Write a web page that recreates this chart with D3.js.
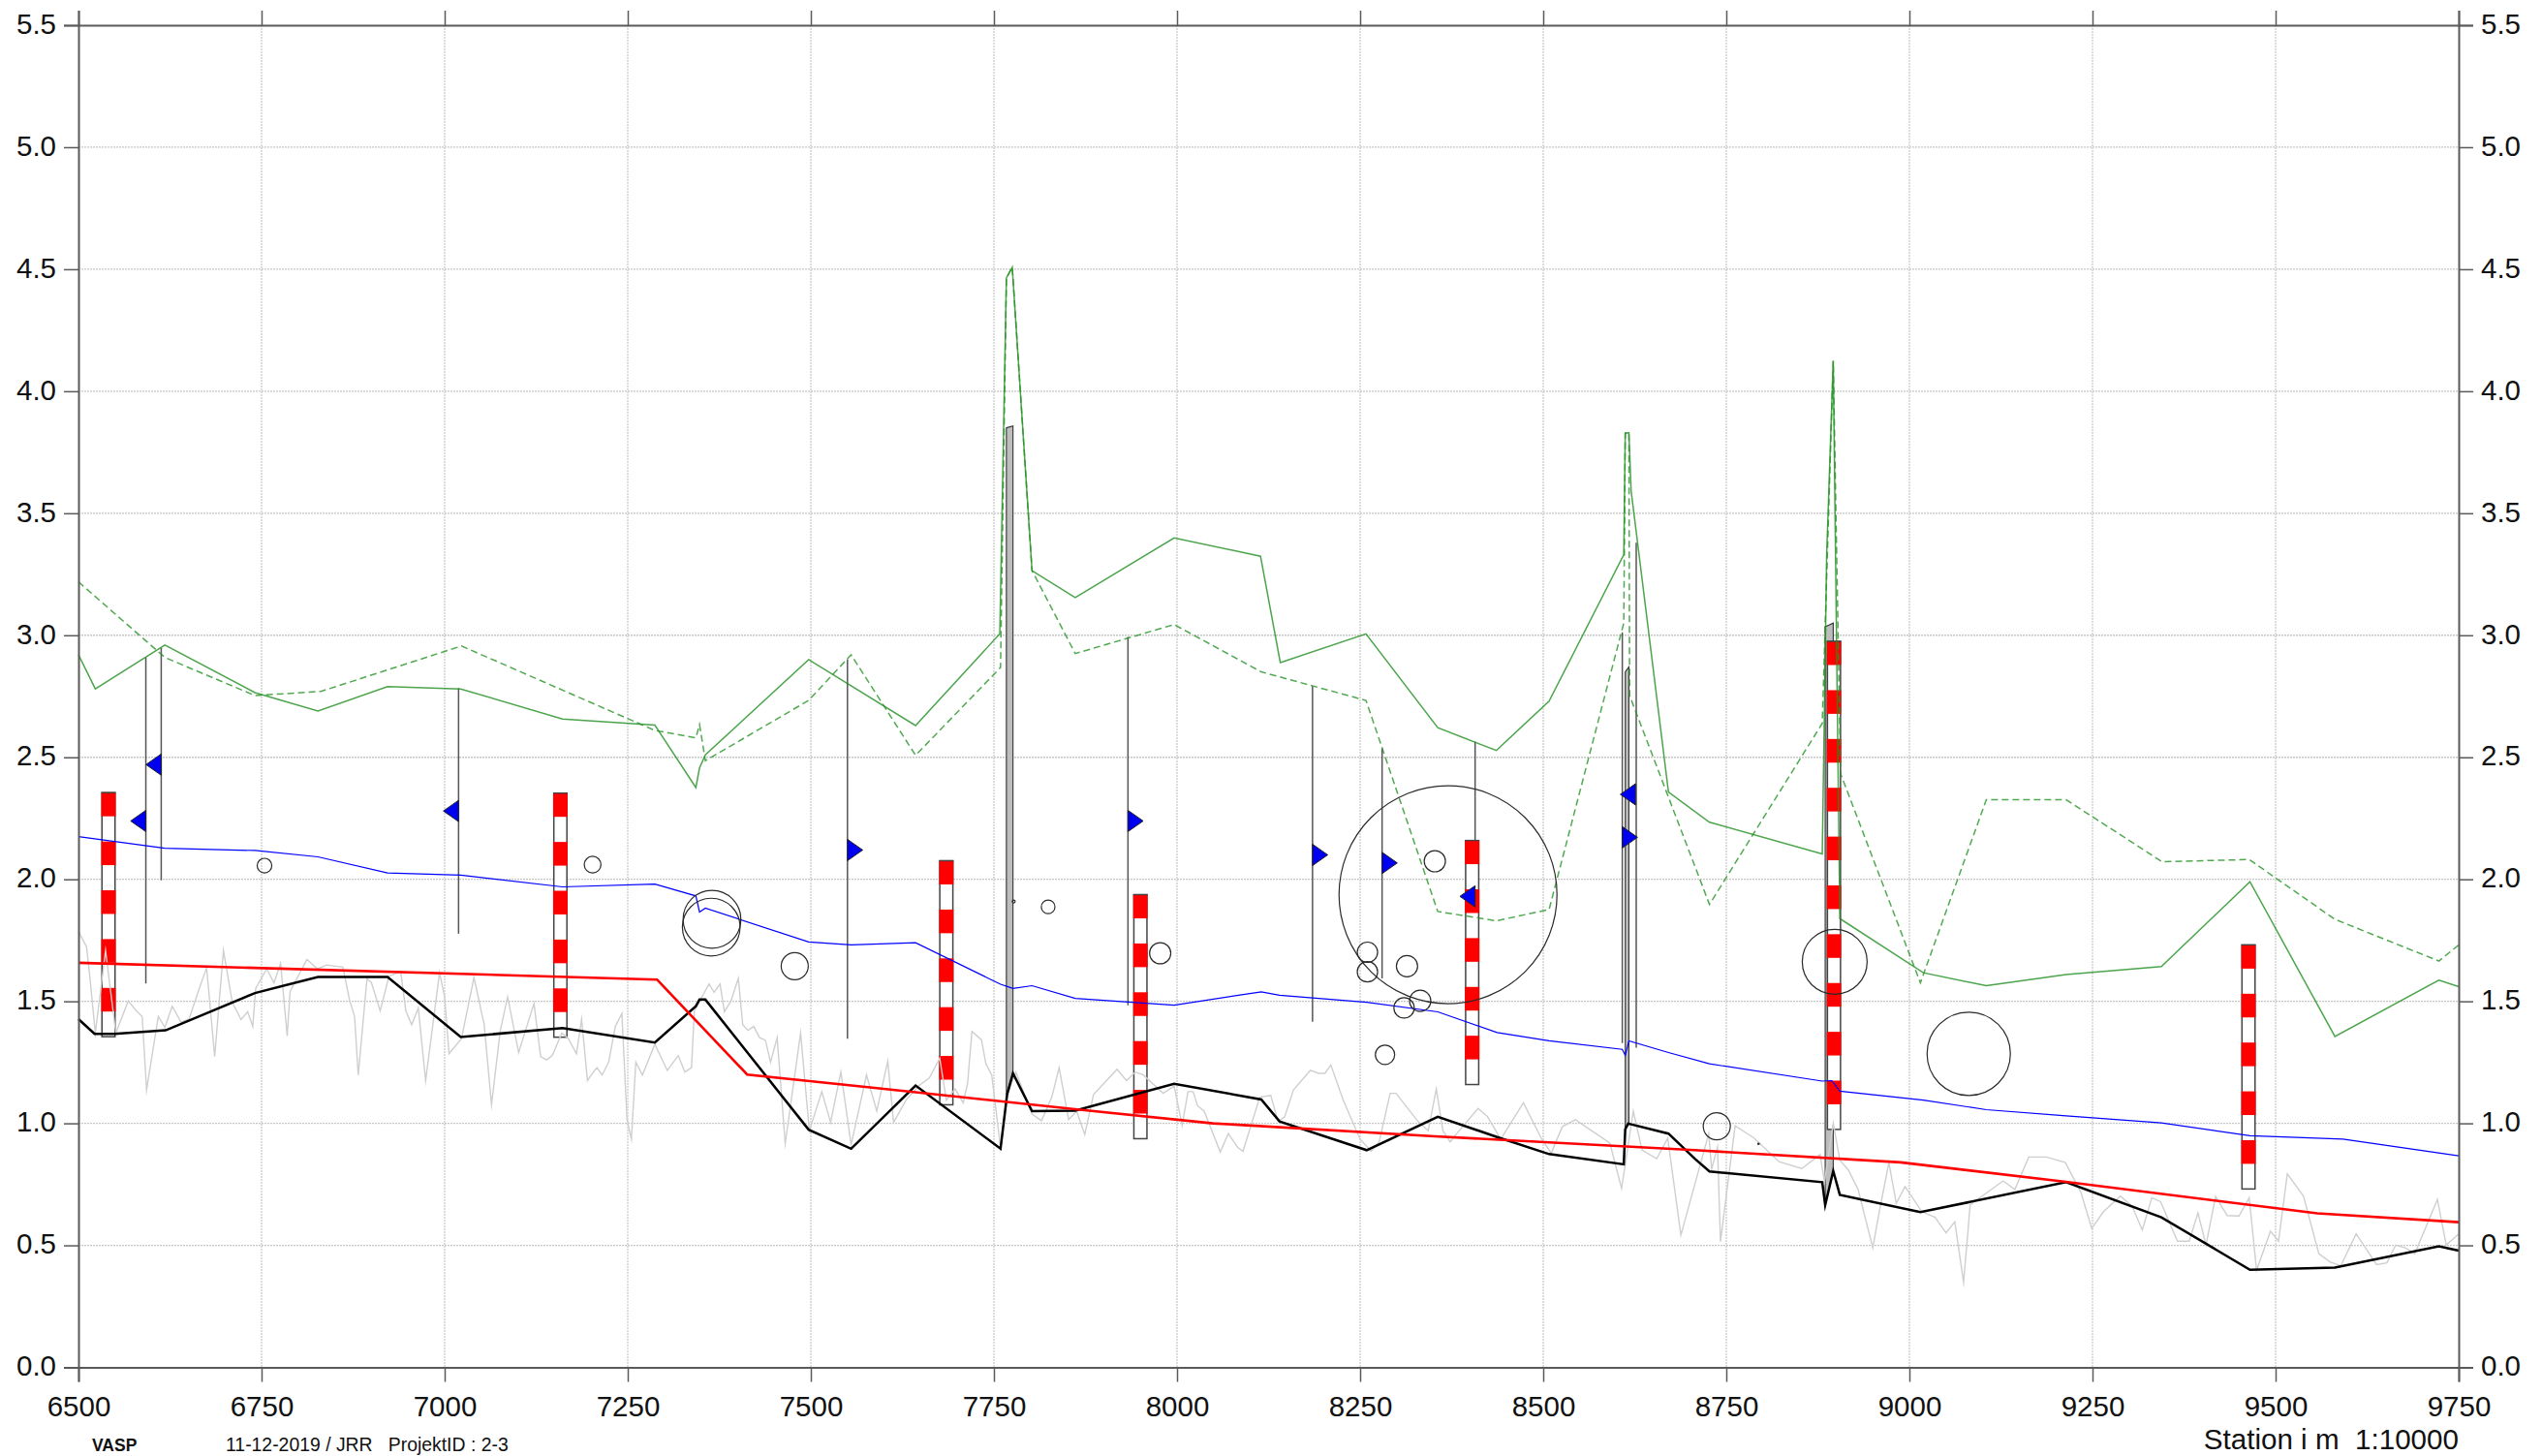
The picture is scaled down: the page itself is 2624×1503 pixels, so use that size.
<!DOCTYPE html>
<html><head><meta charset="utf-8">
<script src="https://cdn.jsdelivr.net/npm/d3@7"></script>
<style>
html,body{margin:0;padding:0;background:#fff}
svg{display:block}
text{font-family:"Liberation Sans",Arial,sans-serif;fill:#111}
</style></head><body>
<svg id="c" width="2624" height="1503"></svg>
<script>
const xTicks=[6500,6750,7000,7250,7500,7750,8000,8250,8500,8750,9000,9250,9500,9750];
const yTicks=[0,0.5,1,1.5,2,2.5,3,3.5,4,4.5,5,5.5];

const greenSolid=[[6500,2.92],[6523,2.78],[6618,2.96],[6741,2.765],[6827,2.69],[6922,2.79],[7022,2.78],[7161,2.657],[7287,2.632],[7343,2.376],[7348,2.456],[7356,2.51],[7497,2.90],[7643,2.63],[7758,3.006],[7767,4.464],[7775,4.508],[7802,3.265],[7861,3.154],[7996,3.399],[8114,3.324],[8141,2.888],[8258,3.006],[8356,2.621],[8436,2.528],[8508,2.73],[8610,3.33],[8612,3.828],[8617,3.83],[8620,3.593],[8671,2.358],[8727,2.234],[8881,2.104],[8884,2.7],[8887,3.33],[8896,4.124],[8905,1.839],[9019,1.617],[9105,1.564],[9214,1.61],[9344,1.642],[9465,1.99],[9581,1.356],[9723,1.587],[9750,1.56]];

const greenDashed=[[6500,3.219],[6618,2.909],[6741,2.753],[6831,2.77],[7023,2.956],[7287,2.61],[7343,2.58],[7348,2.634],[7356,2.486],[7497,2.733],[7555,2.92],[7643,2.508],[7759,2.868],[7767,4.464],[7775,4.508],[7802,3.265],[7861,2.925],[7996,3.044],[8115,2.85],[8258,2.733],[8356,1.868],[8436,1.83],[8508,1.876],[8610,3.05],[8612,3.828],[8617,3.83],[8618,2.753],[8727,1.897],[8881,2.639],[8896,4.124],[8906,2.433],[9015,1.576],[9105,2.326],[9214,2.326],[9345,2.072],[9464,2.081],[9581,1.836],[9723,1.665],[9750,1.731]];

const blueLine=[[6500,2.175],[6618,2.127],[6741,2.118],[6827,2.092],[6922,2.026],[7022,2.017],[7161,1.969],[7287,1.98],[7343,1.932],[7348,1.866],[7356,1.882],[7497,1.743],[7555,1.731],[7643,1.74],[7759,1.57],[7776,1.553],[7802,1.564],[7861,1.512],[7996,1.484],[8115,1.539],[8140,1.525],[8259,1.496],[8356,1.457],[8437,1.372],[8508,1.338],[8608,1.303],[8612,1.278],[8617,1.338],[8671,1.29],[8727,1.244],[8881,1.173],[8894,1.175],[8905,1.132],[9019,1.095],[9105,1.056],[9214,1.031],[9344,1.002],[9465,0.949],[9592,0.935],[9750,0.867]];

const redLine=[[6500,1.658],[7290,1.589],[7413,1.2],[7584,1.146],[7867,1.056],[8049,1.0],[8352,0.947],[8707,0.89],[8988,0.84],[9214,0.76],[9557,0.631],[9750,0.595]];

const blackLine=[[6500,1.427],[6522,1.367],[6549,1.367],[6619,1.381],[6741,1.534],[6827,1.6],[6922,1.6],[7022,1.354],[7161,1.39],[7287,1.331],[7343,1.48],[7348,1.507],[7356,1.507],[7497,0.974],[7555,0.896],[7643,1.155],[7759,0.896],[7768,1.118],[7776,1.205],[7802,1.05],[7861,1.052],[7996,1.162],[8115,1.098],[8140,1.008],[8259,0.89],[8356,1.027],[8437,0.944],[8508,0.874],[8610,0.832],[8612,0.976],[8616,0.999],[8671,0.958],[8707,0.855],[8727,0.803],[8881,0.759],[8885,0.665],[8896,0.805],[8905,0.707],[9015,0.636],[9214,0.759],[9344,0.615],[9465,0.4],[9581,0.409],[9723,0.496],[9750,0.478]];

const grayLine=[[6500,1.786],[6511,1.724],[6516,1.587],[6523,1.37],[6537,1.708],[6551,1.37],[6568,1.502],[6579,1.461],[6587,1.438],[6593,1.137],[6609,1.438],[6618,1.393],[6628,1.48],[6640,1.415],[6651,1.427],[6665,1.553],[6675,1.637],[6686,1.274],[6698,1.708],[6710,1.496],[6722,1.425],[6731,1.457],[6738,1.397],[6742,1.553],[6757,1.633],[6767,1.576],[6776,1.656],[6785,1.358],[6789,1.541],[6812,1.672],[6826,1.633],[6839,1.649],[6861,1.64],[6870,1.507],[6877,1.438],[6882,1.198],[6894,1.594],[6900,1.576],[6912,1.461],[6924,1.603],[6940,1.621],[6947,1.461],[6955,1.404],[6964,1.473],[6974,1.175],[6993,1.617],[7000,1.518],[7006,1.285],[7023,1.347],[7040,1.598],[7054,1.404],[7064,1.077],[7076,1.381],[7086,1.518],[7101,1.29],[7122,1.491],[7131,1.274],[7139,1.26],[7147,1.278],[7160,1.37],[7169,1.347],[7180,1.285],[7187,1.427],[7195,1.175],[7204,1.214],[7208,1.228],[7215,1.198],[7224,1.251],[7233,1.397],[7242,1.45],[7249,1.015],[7255,0.935],[7261,1.251],[7270,1.198],[7287,1.324],[7304,1.217],[7319,1.278],[7328,1.21],[7337,1.228],[7341,1.461],[7361,1.571],[7368,1.537],[7376,1.571],[7382,1.457],[7391,1.502],[7401,1.594],[7407,1.404],[7414,1.381],[7422,1.397],[7430,1.351],[7438,1.34],[7445,1.251],[7454,1.351],[7465,0.917],[7486,1.37],[7498,0.97],[7515,1.13],[7527,1.004],[7541,1.21],[7555,0.912],[7576,1.198],[7590,1.05],[7605,1.255],[7613,1.004],[7630,1.095],[7647,1.153],[7662,1.187],[7676,1.267],[7685,1.095],[7697,1.141],[7708,1.084],[7714,1.164],[7720,1.377],[7733,1.342],[7739,1.244],[7747,1.198],[7759,0.901],[7768,1.118],[7780,1.21],[7802,1.038],[7815,1.011],[7829,1.107],[7839,1.228],[7852,1.015],[7863,1.05],[7874,0.954],[7886,1.118],[7918,1.221],[7931,1.175],[7943,1.21],[7954,1.198],[7981,1.123],[7996,1.153],[8007,0.992],[8015,1.13],[8022,1.13],[8028,1.072],[8037,1.05],[8059,0.883],[8070,0.958],[8083,0.901],[8090,0.885],[8113,1.107],[8128,1.114],[8138,1.008],[8147,1.027],[8159,1.137],[8182,1.217],[8193,1.205],[8202,1.205],[8210,1.239],[8227,1.095],[8250,0.935],[8265,0.885],[8276,0.924],[8291,1.123],[8299,1.123],[8329,1.008],[8343,0.97],[8354,1.141],[8363,0.97],[8373,0.924],[8382,0.958],[8411,1.061],[8424,1.027],[8442,0.935],[8473,1.084],[8498,0.935],[8511,0.878],[8526,0.986],[8544,1.015],[8562,0.978],[8591,0.919],[8607,0.733],[8623,1.05],[8635,0.89],[8655,0.855],[8670,0.939],[8688,0.542],[8726,0.958],[8730,0.813],[8738,0.903],[8742,0.515],[8762,0.99],[8787,0.942],[8822,0.843],[8853,0.815],[8878,0.872],[8884,0.76],[8896,1.0],[8905,0.85],[8917,0.807],[8930,0.728],[8950,0.49],[8959,0.64],[8972,0.839],[8982,0.672],[8994,0.741],[9017,0.638],[9035,0.615],[9050,0.551],[9062,0.597],[9074,0.348],[9083,0.666],[9128,0.764],[9144,0.729],[9163,0.862],[9187,0.862],[9213,0.839],[9234,0.718],[9249,0.569],[9265,0.638],[9288,0.702],[9304,0.661],[9318,0.563],[9331,0.695],[9343,0.679],[9366,0.517],[9382,0.517],[9394,0.633],[9405,0.501],[9418,0.7],[9434,0.622],[9450,0.62],[9464,0.695],[9474,0.398],[9493,0.558],[9504,0.517],[9516,0.793],[9538,0.702],[9559,0.466],[9574,0.432],[9589,0.416],[9610,0.547],[9638,0.421],[9652,0.428],[9664,0.501],[9678,0.489],[9690,0.466],[9721,0.688],[9733,0.501],[9750,0.547]];

// striped poles: station, top, number of 0.1-high segments
const poles=[[6541,2.355,10],[7158,2.353,10],[7685,2.076,10],[7950,1.937,10],[8403,2.159,10],[8897,2.975,20],[9463,1.731,10]];
// thin borings: station, top, bottom
const borings=[[6592,2.909,1.573],[6613,2.948,1.996],[7019,2.783,1.777],[7550,2.902,1.347],[7933,2.993,1.484],[8185,2.792,1.416],[8280,2.536,1.594],[8407,2.563,1.297],[8608,3.012,1.329],[8627,3.379,1.31]];
// filled narrow columns: corner points
const columns=[
 [[7767,3.85],[7776,3.858],[7776,1.205],[7767,1.118]],
 [[8612,2.85],[8617,2.87],[8617,0.999],[8612,0.976]],
 [[8885,3.035],[8896,3.05],[8896,0.805],[8885,0.665]]
];
// flags: station, level, direction
const flags=[[6592,2.239,-1],[6613,2.47,-1],[7019,2.28,-1],[7550,2.12,1],[7933,2.239,1],[8185,2.10,1],[8280,2.067,1],[8407,1.93,-1],[8626,2.348,-1],[8608,2.172,1]];
// circles: station, level, radius in metres of station
const circles=[[6754,2.056,10],[7202,2.06,11.4],[7365,1.836,39.4],[7364,1.804,39.4],[7478,1.644,18.5],[7824,1.887,9.3],[7977,1.697,14.5],[8370,1.937,148.8],[8352,2.074,14.5],[8260,1.701,13.9],[8260,1.621,13.9],[8314,1.644,14.5],[8332,1.502,14.5],[8310,1.473,13.9],[8284,1.281,13.2],[8737,0.988,18.5],[8898,1.662,44.3],[9081,1.285,56.9],[7777,1.909,2],[8794,0.916,1]];

const L=81,R=2538,T=26,B=1411.5;
const x=d3.scaleLinear().domain([6500,9750]).range([L,R]);
const y=d3.scaleLinear().domain([0,5.5]).range([B,T]);
const svg=d3.select('#c');
const axisColor='#5a5a5a';

// grid
svg.append('g').selectAll('line').data(yTicks.slice(1,-1)).join('line')
 .attr('x1',L).attr('x2',R).attr('y1',d=>y(d)).attr('y2',d=>y(d))
 .attr('stroke','#c6c6c6').attr('stroke-width',1.3).attr('stroke-dasharray','2 1');
svg.append('g').selectAll('line').data(xTicks.slice(1,-1)).join('line')
 .attr('y1',T).attr('y2',B).attr('x1',d=>x(d)).attr('x2',d=>x(d))
 .attr('stroke','#d2d2d2').attr('stroke-width',1.5).attr('stroke-dasharray','2 1');

// filled columns
svg.append('g').selectAll('polygon').data(columns).join('polygon')
 .attr('points',d=>d.map(p=>x(p[0])+','+y(p[1])).join(' '))
 .attr('fill','#bdbdbd').attr('stroke','#333').attr('stroke-width',1.1);

// thin borings
svg.append('g').selectAll('line').data(borings).join('line')
 .attr('x1',d=>x(d[0])).attr('x2',d=>x(d[0])).attr('y1',d=>y(d[1])).attr('y2',d=>y(d[2]))
 .attr('stroke','#555').attr('stroke-width',1.5);

// poles
const pw=13.5;
const pg=svg.append('g');
poles.forEach(([s,top,n])=>{
  const g=pg.append('g');
  const segs=d3.range(n);
  g.append('rect').attr('x',x(s)-pw/2).attr('width',pw)
   .attr('y',y(top)).attr('height',y(top-n*0.1)-y(top))
   .attr('fill','#fff').attr('stroke','#444').attr('stroke-width',1.5);
  g.selectAll('rect.band').data(segs.filter(i=>i%2===0)).join('rect').attr('class','band')
   .attr('x',x(s)-pw/2-0.7).attr('width',pw+1.4)
   .attr('y',i=>y(top-i*0.1)).attr('height',y(0)-y(0.097))
   .attr('fill','#ff0000');
  g.append('line').attr('x1',x(s)-pw/2-0.7).attr('x2',x(s)+pw/2+0.7)
   .attr('y1',y(top)).attr('y2',y(top)).attr('stroke','#444').attr('stroke-width',1.3);
});

const line=d3.line().x(d=>x(d[0])).y(d=>y(d[1]));
function draw(data,color,w,dash,op){
  const p=svg.append('path').datum(data).attr('d',line).attr('fill','none')
   .attr('stroke',color).attr('stroke-width',w).attr('stroke-linejoin','miter').attr('stroke-miterlimit',10);
  if(dash)p.attr('stroke-dasharray',dash);
  if(op)p.attr('stroke-opacity',op);
}
draw(grayLine,'#cfcfcf',1.4);
draw(greenSolid,'#1f8f1f',1.5,null,0.8);
draw(greenDashed,'#259425',1.5,'7 4',0.8);
draw(blueLine,'#0000ff',1.2);
draw(blackLine,'#000000',2.5);
draw(redLine,'#ff0000',2.6);

// circles
svg.append('g').selectAll('circle').data(circles).join('circle')
 .attr('cx',d=>x(d[0])).attr('cy',d=>y(d[1])).attr('r',d=>x(6500+d[2])-x(6500))
 .attr('fill','none').attr('stroke','#2a2a2a').attr('stroke-width',1.2);

// flags
const fw=15.7,fh=11;
svg.append('g').selectAll('path').data(flags).join('path')
 .attr('d',d=>{const a=x(d[0]),b=y(d[1]);return 'M'+a+','+(b-fh)+'L'+(a+d[2]*fw)+','+b+'L'+a+','+(b+fh)+'Z';})
 .attr('fill','#0000f0').attr('stroke','#222').attr('stroke-width',1);

// axes
const fs=29.5;
function style(g){
  g.selectAll('path.domain').attr('stroke',axisColor).attr('stroke-width',2);
  g.selectAll('.tick line').attr('stroke',axisColor).attr('stroke-width',1.5);
  g.selectAll('text').attr('font-family','"Liberation Sans",Arial,sans-serif').attr('font-size',fs).attr('fill','#111');
}
const f1=d3.format('.1f');
svg.append('g').attr('transform',`translate(0,${B})`)
 .call(d3.axisBottom(x).tickValues(xTicks).tickFormat(d3.format('d')).tickSize(15).tickPadding(15)).call(style);
svg.append('g').attr('transform',`translate(0,${T})`)
 .call(d3.axisTop(x).tickValues(xTicks).tickFormat('').tickSize(15)).call(style);
svg.append('g').attr('transform',`translate(${L},0)`)
 .call(d3.axisLeft(y).tickValues(yTicks).tickFormat(f1).tickSize(15).tickPadding(8)).call(style)
 .selectAll('text').attr('dy','0.28em');
svg.append('g').attr('transform',`translate(${R},0)`)
 .call(d3.axisRight(y).tickValues(yTicks).tickFormat(f1).tickSize(15).tickPadding(8)).call(style)
 .selectAll('text').attr('dy','0.28em');

// footer
svg.append('text').attr('x',95).attr('y',1498).attr('font-size',17.5).attr('font-weight','bold').text('VASP');
svg.append('text').attr('x',233).attr('y',1498).attr('font-size',19.4).style('white-space','pre').text('11-12-2019 / JRR   ProjektID : 2-3');
svg.append('text').attr('x',R).attr('y',1496).attr('text-anchor','end').attr('font-size',29.6).style('white-space','pre').text('Station i m  1:10000');
</script>
</body></html>
